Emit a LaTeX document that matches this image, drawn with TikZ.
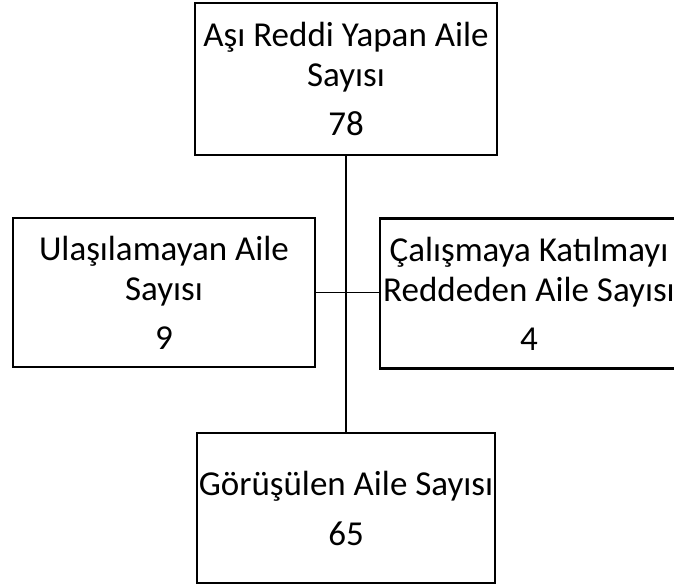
\documentclass[tikz,border=0pt]{standalone}
\usepackage{fontspec}
\setmainfont{Carlito}
\begin{document}
\begin{tikzpicture}[x=1pt,y=-1pt,
  box/.style={draw, line width=2.2pt, inner sep=0pt, align=center,
              font=\fontsize{35}{40}\selectfont},
  link/.style={line width=1.3pt}]
\useasboundingbox (0,0) rectangle (674,587);
\node[box, minimum width=302pt, minimum height=152pt] (top) at (346,79)
  {Aşı Reddi Yapan Aile\\Sayısı\\[9pt]78};
\node[box, minimum width=302pt, minimum height=149pt] (left) at (164,292.5)
  {Ulaşılamayan Aile\\Sayısı\\[9pt]9};
\node[box, minimum width=298pt, minimum height=150pt] (right) at (529,293.5)
  {Çalışmaya Katılmayı\\Reddeden Aile Sayısı\\[9pt]4};
\node[box, minimum width=298pt, minimum height=150pt] (bottom) at (346,508)
  {Görüşülen Aile Sayısı\\[10pt]65};
\draw[link] (top.south) -- (bottom.north);
\draw[link] (left.east) -- (left.east -| right.west);
\end{tikzpicture}
\end{document}
